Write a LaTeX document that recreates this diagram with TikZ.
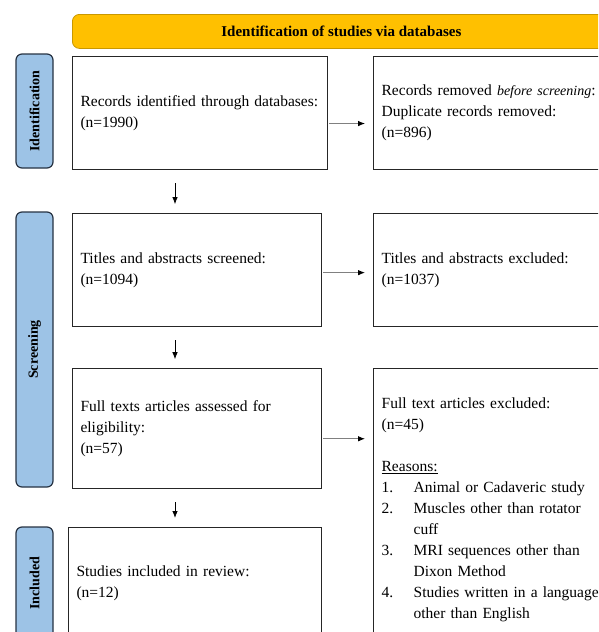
\documentclass[tikz,border=0pt]{standalone}
\usepackage{fontspec}
\setmainfont{Liberation Serif}
\usetikzlibrary{arrows.meta, positioning}

\definecolor{headgold}{RGB}{255,192,0}
\definecolor{headedge}{RGB}{201,152,0}
\definecolor{sideblue}{RGB}{157,195,230}
\definecolor{sideedge}{RGB}{38,50,66}

\begin{document}
\begin{tikzpicture}[
  x=1pt, y=-1pt,
  box/.style={draw=black!85, line width=1.1pt, align=left, anchor=north west, inner xsep=8pt, minimum height=113pt, font=\fontsize{15.5}{21}\selectfont},
  side/.style={draw=sideedge, fill=sideblue, line width=1.2pt, rounded corners=6pt, rotate=90, minimum height=37pt, inner sep=0pt, font=\bfseries\fontsize{14}{16}\selectfont},
  head/.style={draw=headedge, fill=headgold, line width=0.8pt, rounded corners=7pt, anchor=north west, minimum width=538pt, minimum height=34pt, font=\bfseries\fontsize{15}{18}\selectfont},
  arr/.style={-{Latex[length=7pt, width=5.5pt, color=black]}, draw=black!50, line width=1pt, shorten >=8pt, shorten <=1pt},
  darr/.style={-{Latex[length=7pt, width=5.5pt]}, line width=0.8pt, shorten <=13pt, shorten >=9pt}
]
  \useasboundingbox (0,0) rectangle (598,632);
  \clip (0,0) rectangle (598,632);

  \node[head] (head) at (72,14) {Identification of studies via databases};

  % phase labels
  \node[side, minimum width=114pt] (idlab) at (34.5,111) {Identification};
  \node[side, minimum width=275pt] (scrlab) at (34.5,349.5) {Screening};
  \node[side, minimum width=112pt] (inclab) at (34.5,583) {Included};

  \node[box, text width=239pt] (rec) at (72,56) {Records identified through databases:\\(n=1990)};
  \node[box, text width=240pt, right=45pt of rec.north east, anchor=north west] (rem) {Records removed \textit{\fontsize{14}{21}\selectfont before screening}:\\Duplicate records removed:\\(n=896)};

  \node[box, text width=233pt, below=43pt of rec.south west, anchor=north west] (tia) {Titles and abstracts screened:\\(n=1094)};
  \node[box, text width=240pt, right=51pt of tia.north east, anchor=north west] (tiex) {Titles and abstracts excluded:\\(n=1037)};

  \node[box, text width=233pt, minimum height=120pt, below=41pt of tia.south west, anchor=north west] (ftx) {Full texts articles assessed for\\eligibility:\\(n=57)};
  \node[box, text width=240pt, minimum height=282pt, right=51pt of ftx.north east, anchor=north west] (ftex) {Full text articles excluded:\\(n=45)\\[21pt]
    \underline{Reasons:}\\
    \makebox[32pt][l]{1.}Animal or Cadaveric study\\
    \makebox[32pt][l]{2.}Muscles other than rotator\\
    \hspace*{32pt}cuff\\
    \makebox[32pt][l]{3.}MRI sequences other than\\
    \hspace*{32pt}Dixon Method\\
    \makebox[32pt][l]{4.}Studies written in a language\\
    \hspace*{32pt}other than English};

  \node[box, text width=237pt, minimum height=112pt] (stu) at (68,527) {Studies included in review:\\(n=12)};

  \draw[arr] ([yshift=-10.5pt]rec.east) -- ([yshift=-10.5pt]rem.west);
  \draw[arr] ([yshift=-2.5pt]tia.east) -- ([yshift=-2.5pt]tiex.west);
  \draw[arr] ([yshift=-10pt]ftx.east) -- ([yshift=-10pt]ftx.east -| ftex.west);

  \draw[darr] ([xshift=103pt]rec.south west) -- ([xshift=103pt]tia.north west);
  \draw[darr] ([xshift=103pt]tia.south west) -- ([xshift=103pt]ftx.north west);
  \draw[darr] ([xshift=103pt]ftx.south west) -- ([xshift=103pt]ftx.south west |- stu.north);
\end{tikzpicture}
\end{document}
